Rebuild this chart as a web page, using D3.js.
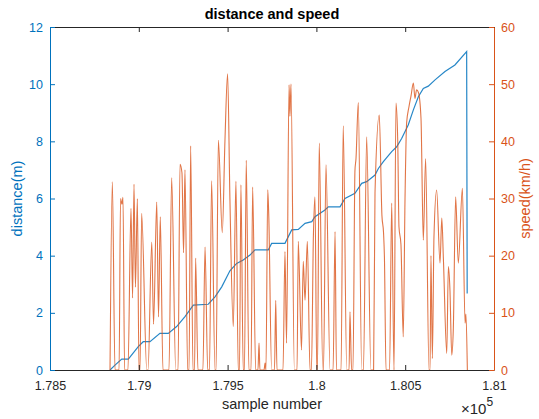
<!DOCTYPE html>
<html>
<head>
<meta charset="utf-8">
<script src="https://cdn.jsdelivr.net/npm/d3@7"></script>
<style>
  body { margin: 0; background: #fff; }
  svg { display: block; font-family: "Liberation Sans", Arial, sans-serif; }
</style>
</head>
<body>
<div id="chart"></div>
<script>
// x ticks (sample number, shown as x 10^5)
var sampleTicks = [178500, 179000, 179500, 180000, 180500, 181000];
var distTicks = [0, 2, 4, 6, 8, 10, 12];
var speedTicks = [0, 10, 20, 30, 40, 50, 60];

// distance (m)
var distSamples = [178838, 178866, 178904, 178941, 178997, 179025, 179063, 179119, 179166, 179213,
  179260, 179307, 179391, 179429, 179467, 179513, 179551, 179588, 179626, 179654, 179729, 179748,
  179823, 179861, 179898, 179936, 179974, 179992, 180048, 180067, 180133, 180161, 180217, 180255,
  180283, 180330, 180349, 180377, 180424, 180452, 180480, 180517, 180546, 180574, 180602, 180630,
  180668, 180724, 180780, 180846, 180849];
var distValues = [0, 0.17, 0.38, 0.38, 0.82, 0.99, 0.99, 1.28, 1.28, 1.52,
  1.87, 2.27, 2.3, 2.56, 2.91, 3.47, 3.73, 3.85, 4.02, 4.2, 4.2, 4.43,
  4.43, 4.9, 4.92, 5.13, 5.19, 5.36, 5.6, 5.71, 5.71, 6.0, 6.18, 6.53,
  6.59, 6.82, 7.05, 7.29, 7.64, 7.81, 8.1, 8.57, 9.1, 9.56, 9.85, 9.93,
  10.15, 10.44, 10.67, 11.14, 2.68];

// speed (km/h)
var speedSamples = [178838, 178851, 178866, 178889, 178897, 178905, 178911, 178920, 178939, 178956,
  178965, 178973, 178981, 178992, 179001, 179007, 179016, 179045, 179052, 179073,
  179083, 179101, 179111, 179121, 179136, 179170, 179185, 179208, 179221, 179232,
  179243, 179252, 179260, 179275, 179283, 179292, 179305, 179314, 179320, 179333,
  179361, 179373, 179388, 179398, 179410, 179429, 179435, 179448, 179470, 179485,
  179500, 179513, 179532, 179547, 179560, 179567, 179575, 179588, 179595, 179605,
  179620, 179632, 179641, 179658, 179671, 179677, 179682, 179705, 179711, 179716,
  179726, 179732, 179748, 179764, 179771, 179778, 179812, 179823, 179832, 179846,
  179851, 179857, 179876, 179891, 179898, 179916, 179926, 179936, 179949, 179964,
  179972, 179983, 179992, 180002, 180006, 180016, 180036, 180040, 180054, 180077,
  180094, 180105, 180113, 180139, 180151, 180171, 180184, 180189, 180198, 180206,
  180217, 180223, 180236, 180255, 180265, 180283, 180307, 180322, 180330, 180354,
  180369, 180378, 180383, 180392, 180412, 180424, 180437, 180448, 180458, 180465,
  180476, 180489, 180499, 180508, 180521, 180533, 180546, 180555, 180564, 180575,
  180589, 180602, 180615, 180634, 180640, 180645, 180653, 180662, 180677, 180696,
  180706, 180715, 180734, 180743, 180752, 180762, 180771, 180784, 180799, 180822,
  180837, 180842, 180850];
var speedValues = [0, 32.9, 0, 0, 30, 29, 30.2, 0, 0, 28.3,
  12.6, 32.5, 14.5, 30, 0, 0, 27.4, 0, 0, 22.4,
  8, 29.4, 9.3, 26.8, 0, 0, 33.6, 0, 0, 36,
  34.5, 20.5, 35, 0, 0, 39.2, 0, 0, 19.6, 0,
  0, 21.5, 0, 0, 33.1, 0, 0, 40.2, 24, 40,
  51.8, 30, 7.6, 33, 0, 0, 32.4, 0, 0, 36.7,
  0, 0, 32, 0, 0, 4.7, 0, 0, 1.2, 0,
  31.5, 26.8, 0, 0, 12.2, 0, 0, 20.7, 4.7, 49.9,
  44.4, 50, 0, 0, 22.5, 3.5, 19, 12.2, 22.5, 0,
  0, 23.3, 30.3, 0, 0, 39.7, 0, 0, 35.9, 0,
  0, 24.2, 0, 0, 42.7, 0, 0, 10.2, 0, 0,
  34.8, 37, 46.8, 0, 0, 40.8, 0, 0, 31, 44.6,
  27, 24, 19.8, 0, 0, 29.2, 0, 46.7, 40, 25,
  22, 5.8, 30, 43.2, 46, 48, 50.2, 47.5, 49, 48.5,
  44, 22.7, 37, 0, 0, 20, 2, 23.3, 31.5, 18.7,
  26.6, 19.5, 2.9, 18.1, 14, 2.6, 7.3, 30.3, 18.7, 31.8,
  8.2, 9.8, 0];

var blue = '#0072BD';
var orange = '#D95319';
var dark = '#262626';

var width = 539, height = 419;
var margin = {top: 27, right: 45, bottom: 49, left: 50};
var w = width - margin.left - margin.right;
var h = height - margin.top - margin.bottom;

var svg = d3.select('#chart').append('svg')
    .attr('width', width)
    .attr('height', height);

var g = svg.append('g').attr('transform', 'translate(' + margin.left + ',' + margin.top + ')');

var x = d3.scaleLinear().domain([178500, 181000]).range([0, w]);
var yL = d3.scaleLinear().domain([0, 12]).range([h, 0]);
var yR = d3.scaleLinear().domain([0, 60]).range([h, 0]);

var distData = distSamples.map(function(s, i) { return [s, distValues[i]]; });
var speedData = speedSamples.map(function(s, i) { return [s, speedValues[i]]; });

// lines
g.append('path')
    .datum(distData)
    .attr('fill', 'none')
    .attr('stroke', blue)
    .attr('stroke-width', 1.2)
    .attr('stroke-opacity', 0.85)
    .attr('d', d3.line().x(function(d) { return x(d[0]); }).y(function(d) { return yL(d[1]); }));

g.append('path')
    .datum(speedData)
    .attr('fill', 'none')
    .attr('stroke', orange)
    .attr('stroke-width', 1.1)
    .attr('stroke-opacity', 0.8)
    .attr('d', d3.line().curve(d3.curveMonotoneX)
      .x(function(d) { return x(d[0]); }).y(function(d) { return yR(d[1]); }));

var fmtX = function(d) { return d3.format('')(+(d / 1e5).toFixed(3)); };

// axes (ticks point inward, like matlab)
var styleAxis = function(sel, color, fs) {
  sel.select('.domain').attr('stroke', color);
  sel.selectAll('.tick line').attr('stroke', color);
  sel.selectAll('.tick text').attr('fill', color).style('font-size', fs).style('font-family', '"Liberation Sans", Arial, sans-serif');
};

g.append('g')
    .attr('transform', 'translate(0,' + h + ')')
    .call(d3.axisBottom(x).tickValues(sampleTicks).tickFormat(fmtX).tickSize(-5).tickSizeOuter(0).tickPadding(11))
    .call(styleAxis, dark, '12.5px');

g.append('g')
    .call(d3.axisTop(x).tickValues(sampleTicks).tickFormat('').tickSize(-5).tickSizeOuter(0))
    .call(styleAxis, dark, '12.5px');

g.append('g')
    .call(d3.axisLeft(yL).tickValues(distTicks).tickSize(-5).tickSizeOuter(0).tickPadding(7))
    .call(styleAxis, blue, '12.5px');

g.append('g')
    .attr('transform', 'translate(' + w + ',0)')
    .call(d3.axisRight(yR).tickValues(speedTicks).tickSize(-5).tickSizeOuter(0).tickPadding(7))
    .call(styleAxis, orange, '12.5px');

// texts
svg.append('text')
    .attr('x', margin.left + w / 2).attr('y', 19)
    .attr('text-anchor', 'middle')
    .attr('font-weight', 'bold').attr('font-size', '14.5px').attr('fill', '#000')
    .text('distance and speed');

svg.append('text')
    .attr('x', margin.left + w / 2).attr('y', 409)
    .attr('text-anchor', 'middle')
    .attr('font-size', '14.5px').attr('fill', dark)
    .text('sample number');

var ex = svg.append('text')
    .attr('x', 461).attr('y', 414)
    .attr('font-size', '15px').attr('fill', dark);
ex.append('tspan').text('\u00d710');
ex.append('tspan').attr('dy', -8).attr('font-size', '12px').text('5');

svg.append('text')
    .attr('transform', 'translate(22,' + (margin.top + h / 2) + ') rotate(-90)')
    .attr('text-anchor', 'middle')
    .attr('font-size', '14.5px').attr('fill', blue)
    .text('distance(m)');

svg.append('text')
    .attr('transform', 'translate(530,' + (margin.top + h / 2) + ') rotate(-90)')
    .attr('text-anchor', 'middle')
    .attr('font-size', '14.5px').attr('fill', orange)
    .text('speed(km/h)');
</script>
</body>
</html>
